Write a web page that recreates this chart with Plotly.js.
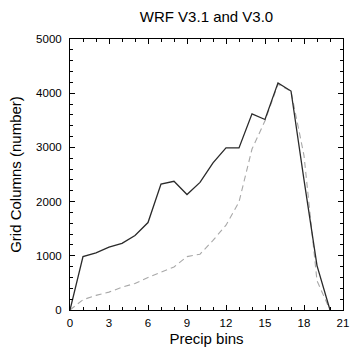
<!DOCTYPE html>
<html>
<head>
<meta charset="utf-8">
<script src="https://cdn.plot.ly/plotly-3.0.1.min.js"></script>
<style>html,body{margin:0;padding:0;background:#fff;}#chart{width:350px;height:358px;}</style>
</head>
<body>
<div id="chart"></div>
<script>
const bins = [0,1,2,3,4,5,6,7,8,9,10,11,12,13,14,15,16,17,18,19,20];
const wrfV31 = [0,985,1055,1160,1230,1375,1613,2325,2375,2130,2355,2715,2990,2990,3620,3515,4190,4040,2400,820,0];
const wrfV30 = [0,190,270,330,420,490,600,700,795,985,1030,1285,1565,1995,2970,3490,4165,4035,2850,540,0];
const xTickVals = [0,3,6,9,12,15,18,21];
const yTickVals = [0,1000,2000,3000,4000,5000];

const font = 'Liberation Sans, Arial, Helvetica, sans-serif';
const traces = [
  {x: bins, y: wrfV30, mode: 'lines', line: {color: '#a8a8a8', width: 1.1, dash: '6px,4px'}, hoverinfo: 'skip'},
  {x: bins, y: wrfV31, mode: 'lines', line: {color: '#2a2a2a', width: 1.3}, hoverinfo: 'skip'}
];
const axisCommon = {
  showgrid: false, zeroline: false, showline: true, linecolor: '#000', linewidth: 1,
  mirror: 'allticks', ticks: 'inside', ticklen: 5, tickcolor: '#000', tickwidth: 1,
  tickfont: {family: font, size: 11.5, color: '#000'}
};
const layout = {
  width: 350, height: 358,
  margin: {l: 70, r: 7, t: 39, b: 48},
  paper_bgcolor: '#fff', plot_bgcolor: '#fff',
  showlegend: false,
  title: {text: 'WRF V3.1 and V3.0', font: {family: font, size: 15, color: '#000'}, x: 0.59, xanchor: 'center', y: 0.952, yanchor: 'middle'},
  xaxis: Object.assign({}, axisCommon, {
    range: [0, 21], tickvals: xTickVals, ticktext: xTickVals.map(String),
    ticklabelstandoff: 2,
    minor: {dtick: 1, tick0: 0, ticks: 'inside', ticklen: 3, tickcolor: '#000'},
    title: {text: 'Precip bins', font: {family: font, size: 15, color: '#000'}, standoff: 5}
  }),
  yaxis: Object.assign({}, axisCommon, {
    range: [0, 5000], tickvals: yTickVals, ticktext: yTickVals.map(String),
    ticklabelstandoff: 5,
    minor: {dtick: 200, tick0: 0, ticks: 'inside', ticklen: 3, tickcolor: '#000'},
    title: {text: 'Grid Columns (number)', font: {family: font, size: 15, color: '#000'}, standoff: 10}
  })
};
Plotly.newPlot('chart', traces, layout, {staticPlot: true, displayModeBar: false});
</script>
</body>
</html>
